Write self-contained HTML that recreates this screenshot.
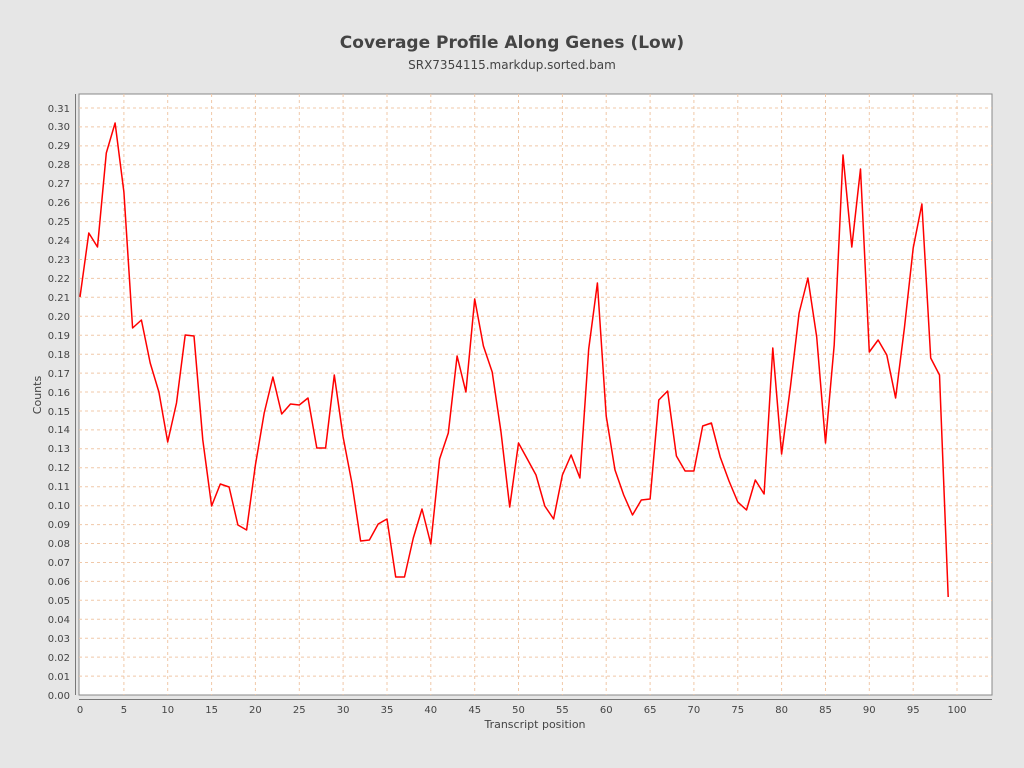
<!DOCTYPE html>
<html><head><meta charset="utf-8"><style>
html,body{margin:0;padding:0;background:#e6e6e6;}
svg{display:block;font-family:"DejaVu Sans","Liberation Sans",sans-serif;}
</style></head><body>
<svg width="1024" height="768" viewBox="0 0 1024 768" xmlns="http://www.w3.org/2000/svg">
<rect width="1024" height="768" fill="#e6e6e6"/>
<text x="512" y="48" text-anchor="middle" font-size="17" font-weight="bold" fill="#444">Coverage Profile Along Genes (Low)</text>
<text x="512" y="69" text-anchor="middle" font-size="12" fill="#444">SRX7354115.markdup.sorted.bam</text>
<rect x="79" y="94" width="913" height="601" fill="#fff" stroke="#888" stroke-width="1"/>
<g stroke="#f0c8a8" stroke-width="1" stroke-dasharray="3,3">
<line x1="79" x2="992" y1="676.1" y2="676.1"/><line x1="79" x2="992" y1="657.1" y2="657.1"/><line x1="79" x2="992" y1="638.2" y2="638.2"/><line x1="79" x2="992" y1="619.3" y2="619.3"/><line x1="79" x2="992" y1="600.3" y2="600.3"/><line x1="79" x2="992" y1="581.4" y2="581.4"/><line x1="79" x2="992" y1="562.5" y2="562.5"/><line x1="79" x2="992" y1="543.5" y2="543.5"/><line x1="79" x2="992" y1="524.6" y2="524.6"/><line x1="79" x2="992" y1="505.7" y2="505.7"/><line x1="79" x2="992" y1="486.7" y2="486.7"/><line x1="79" x2="992" y1="467.8" y2="467.8"/><line x1="79" x2="992" y1="448.8" y2="448.8"/><line x1="79" x2="992" y1="429.9" y2="429.9"/><line x1="79" x2="992" y1="411.0" y2="411.0"/><line x1="79" x2="992" y1="392.0" y2="392.0"/><line x1="79" x2="992" y1="373.1" y2="373.1"/><line x1="79" x2="992" y1="354.2" y2="354.2"/><line x1="79" x2="992" y1="335.2" y2="335.2"/><line x1="79" x2="992" y1="316.3" y2="316.3"/><line x1="79" x2="992" y1="297.3" y2="297.3"/><line x1="79" x2="992" y1="278.4" y2="278.4"/><line x1="79" x2="992" y1="259.5" y2="259.5"/><line x1="79" x2="992" y1="240.5" y2="240.5"/><line x1="79" x2="992" y1="221.6" y2="221.6"/><line x1="79" x2="992" y1="202.7" y2="202.7"/><line x1="79" x2="992" y1="183.7" y2="183.7"/><line x1="79" x2="992" y1="164.8" y2="164.8"/><line x1="79" x2="992" y1="145.9" y2="145.9"/><line x1="79" x2="992" y1="126.9" y2="126.9"/><line x1="79" x2="992" y1="108.0" y2="108.0"/>
<line y1="94" y2="695" x1="123.9" x2="123.9"/><line y1="94" y2="695" x1="167.7" x2="167.7"/><line y1="94" y2="695" x1="211.6" x2="211.6"/><line y1="94" y2="695" x1="255.4" x2="255.4"/><line y1="94" y2="695" x1="299.3" x2="299.3"/><line y1="94" y2="695" x1="343.1" x2="343.1"/><line y1="94" y2="695" x1="387.0" x2="387.0"/><line y1="94" y2="695" x1="430.8" x2="430.8"/><line y1="94" y2="695" x1="474.7" x2="474.7"/><line y1="94" y2="695" x1="518.5" x2="518.5"/><line y1="94" y2="695" x1="562.4" x2="562.4"/><line y1="94" y2="695" x1="606.2" x2="606.2"/><line y1="94" y2="695" x1="650.1" x2="650.1"/><line y1="94" y2="695" x1="693.9" x2="693.9"/><line y1="94" y2="695" x1="737.8" x2="737.8"/><line y1="94" y2="695" x1="781.6" x2="781.6"/><line y1="94" y2="695" x1="825.5" x2="825.5"/><line y1="94" y2="695" x1="869.3" x2="869.3"/><line y1="94" y2="695" x1="913.2" x2="913.2"/><line y1="94" y2="695" x1="957" x2="957"/>
</g>
<line x1="75.5" x2="75.5" y1="94" y2="695" stroke="#777"/>
<line x1="79" x2="992" y1="699.5" y2="699.5" stroke="#777"/>
<g font-size="10" fill="#444" text-anchor="end">
<text x="70" y="699">0.00</text><text x="70" y="680">0.01</text><text x="70" y="661">0.02</text><text x="70" y="642">0.03</text><text x="70" y="623">0.04</text><text x="70" y="604">0.05</text><text x="70" y="585">0.06</text><text x="70" y="566">0.07</text><text x="70" y="547">0.08</text><text x="70" y="528">0.09</text><text x="70" y="509">0.10</text><text x="70" y="490">0.11</text><text x="70" y="471">0.12</text><text x="70" y="452">0.13</text><text x="70" y="433">0.14</text><text x="70" y="415">0.15</text><text x="70" y="396">0.16</text><text x="70" y="377">0.17</text><text x="70" y="358">0.18</text><text x="70" y="339">0.19</text><text x="70" y="320">0.20</text><text x="70" y="301">0.21</text><text x="70" y="282">0.22</text><text x="70" y="263">0.23</text><text x="70" y="244">0.24</text><text x="70" y="206">0.26</text><text x="70" y="225">0.25</text><text x="70" y="187">0.27</text><text x="70" y="168">0.28</text><text x="70" y="149">0.29</text><text x="70" y="130">0.30</text><text x="70" y="112">0.31</text>
</g>
<g font-size="10" fill="#444" text-anchor="middle">
<text x="80" y="713">0</text><text x="123.9" y="713">5</text><text x="167.7" y="713">10</text><text x="211.6" y="713">15</text><text x="255.4" y="713">20</text><text x="299.3" y="713">25</text><text x="343.1" y="713">30</text><text x="387" y="713">35</text><text x="430.8" y="713">40</text><text x="474.7" y="713">45</text><text x="518.5" y="713">50</text><text x="562.4" y="713">55</text><text x="606.2" y="713">60</text><text x="650.1" y="713">65</text><text x="693.9" y="713">70</text><text x="737.8" y="713">75</text><text x="781.6" y="713">80</text><text x="825.5" y="713">85</text><text x="869.3" y="713">90</text><text x="913.2" y="713">95</text><text x="957" y="713">100</text>
</g>
<text x="535" y="728" text-anchor="middle" font-size="11" fill="#444">Transcript position</text>
<text transform="translate(41,395) rotate(-90)" text-anchor="middle" font-size="11" fill="#444">Counts</text>
<polyline fill="none" stroke="#f00" stroke-width="1.5" stroke-linejoin="round" points="80,297 88.8,233 97.5,247 106.3,153 115.1,123 123.9,192 132.6,328 141.4,320 150.2,363 158.9,392 167.7,442 176.5,403 185.2,335 194,336 202.8,440 211.6,506 220.3,484 229.1,487 237.9,525 246.6,530 255.4,465 264.2,413 272.9,377 281.7,414 290.5,404 299.3,405 308,398 316.8,448 325.6,448 334.3,375 343.1,437 351.9,483 360.6,541 369.4,540 378.2,524 387,519 395.7,577 404.5,577 413.3,538 422,509 430.8,544 439.6,459 448.3,433 457.1,356 465.9,392 474.7,299 483.4,346 492.2,372 501,432 509.7,507 518.5,443 527.3,459 536,475 544.8,506 553.6,519 562.4,475 571.1,455 579.9,478 588.7,349 597.4,283 606.2,416 615,470 623.7,495 632.5,515 641.3,500 650.1,499 658.8,400 667.6,391 676.4,456 685.1,471 693.9,471 702.7,426 711.4,423 720.2,457 729,481 737.8,502 746.5,510 755.3,480 764.1,494 772.8,348 781.6,454 790.4,387 799.1,313 807.9,278 816.7,337 825.5,443 834.2,345 843,155 851.8,247 860.5,169 869.3,352 878.1,340 886.8,355 895.6,398 904.4,328 913.2,248 921.9,204 930.7,358 939.5,375 948.2,597"/>
</svg>
</body></html>
